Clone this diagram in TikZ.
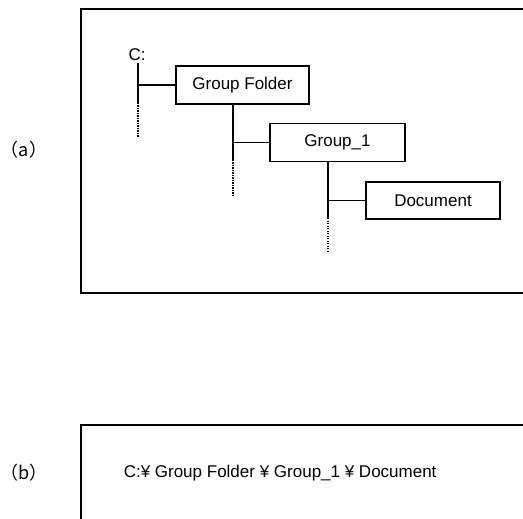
\documentclass[tikz,border=0pt]{standalone}
\usepackage{fontspec}
\setmainfont{Liberation Sans}
\newfontfamily\jpfont{Noto Sans CJK JP}
\begin{document}
\begin{tikzpicture}[x=1pt,y=-1pt,line width=1.5pt,
  folder/.style={draw,rectangle,inner sep=0pt,minimum height=38pt,font=\fontsize{17}{20}\selectfont},
  lbl/.style={inner sep=0pt,font=\fontsize{17}{20}\selectfont},
  dots/.style={line width=1.2pt,dash pattern=on 1.2pt off 1.3pt}]
\useasboundingbox (0,0) rectangle (523,519);
% frames
\draw (523,9) -- (81,9) -- (81,293) -- (523,293);
\draw (523,425) -- (81,425) -- (81,519);
% labels
\node[lbl,font=\jpfont\fontsize{18}{20}\selectfont] (la) at (24,150) {（a）};
\node[lbl,font=\jpfont\fontsize{18}{20}\selectfont] (lb) at (24,473) {（b）};
% tree
\node[lbl] (C) at (137,55) {C:};
\node[folder,minimum width=133pt] (GF) at (242.5,85) {Group Folder};
\node[folder,minimum width=135pt] (G1) at (337.5,142.5) {Group\_1};
\node[folder,minimum width=134pt,minimum height=37pt] (DOC) at (433,200.5) {Document};
% trunks
\coordinate (t0) at (138,63);
\coordinate (t0s) at (138,103);
\coordinate (t0e) at (138,138);
\coordinate (t1) at (233,104);
\coordinate (t1s) at (233,160);
\coordinate (t1e) at (233,197);
\coordinate (t2) at (328,162);
\coordinate (t2s) at (328,218);
\coordinate (t2e) at (328,253);
\draw (t0) -- (t0s);
\draw[dots] (t0s) -- (t0e);
\draw (t0 |- GF.west) -- (GF.west);
\draw (t1) -- (t1s);
\draw[dots] (t1s) -- (t1e);
\draw (t1 |- G1.west) -- (G1.west);
\draw (t2) -- (t2s);
\draw[dots] (t2s) -- (t2e);
\draw (t2 |- DOC.west) -- (DOC.west);
% path
\node[lbl,anchor=west] (path) at (123,473) {C:¥ Group Folder ¥ Group\_1 ¥ Document};
\end{tikzpicture}
\end{document}
